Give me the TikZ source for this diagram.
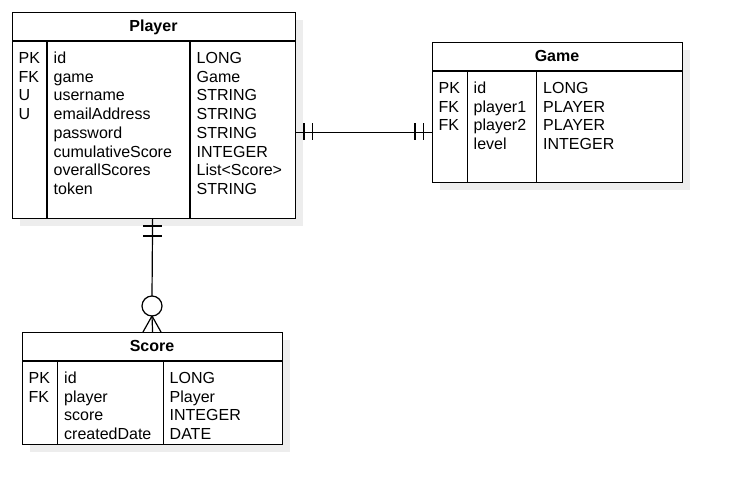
\documentclass[tikz,border=0pt]{standalone}
\usepackage{fontspec}
\setmainfont{Liberation Sans}
\begin{document}
\begin{tikzpicture}[x=1pt,y=-1pt,
  tbl/.style={draw, line width=1.2pt, fill=white, anchor=north west, inner sep=0pt},
  shadowbox/.style={fill=black!7, draw=none},
  cell/.style={anchor=base west, inner sep=0pt, font=\fontsize{16}{19}\selectfont},
  head/.style={anchor=base, inner sep=0pt, font=\fontsize{16}{19}\selectfont\bfseries},
  rel/.style={line width=1.2pt},
  sep/.style={line width=1.2pt}]
\useasboundingbox[fill=white] (0,0) rectangle (732,495);

% ---------- Player ----------
\fill[shadowbox] (20,20) rectangle (303,226);
\node[tbl, minimum width=283pt, minimum height=206pt] (player) at (12,12) {};
\draw[sep] (12,41) -- (295,41);
\draw[sep] (47,41) -- (47,218);
\draw[sep] (190,41) -- (190,218);
\node[head] (playerT) at (153.5,31.7) {Player};
\foreach \t [count=\i from 0] in {PK,FK,U,U}
  \node[cell] (pk\i) at (18.5,{63.3+18.75*\i}) {\t};
\foreach \t [count=\i from 0] in {id,game,username,emailAddress,password,cumulativeScore,overallScores,token}
  \node[cell] (pf\i) at (53.5,{63.3+18.75*\i}) {\t};
\foreach \t [count=\i from 0] in {LONG,Game,STRING,STRING,STRING,INTEGER,List<Score>,STRING}
  \node[cell] (pt\i) at (196.5,{63.3+18.75*\i}) {\t};

% ---------- Game ----------
\fill[shadowbox] (440,50) rectangle (690,190);
\node[tbl, minimum width=250pt, minimum height=140pt] (game) at (432,42) {};
\draw[sep] (432,71) -- (682,71);
\draw[sep] (467.5,71) -- (467.5,182);
\draw[sep] (536.5,71) -- (536.5,182);
\node[head] (gameT) at (557,61.7) {Game};
\foreach \t [count=\i from 0] in {PK,FK,FK}
  \node[cell] (gk\i) at (438.5,{93.3+18.75*\i}) {\t};
\foreach \t [count=\i from 0] in {id,player1,player2,level}
  \node[cell] (gf\i) at (473.5,{93.3+18.75*\i}) {\t};
\foreach \t [count=\i from 0] in {LONG,PLAYER,PLAYER,INTEGER}
  \node[cell] (gt\i) at (543,{93.3+18.75*\i}) {\t};

% ---------- Score ----------
\fill[shadowbox] (30,340) rectangle (290,452);
\node[tbl, minimum width=260pt, minimum height=112pt] (score) at (22,332) {};
\draw[sep] (22,361) -- (282,361);
\draw[sep] (57.5,361) -- (57.5,444);
\draw[sep] (163.5,361) -- (163.5,444);
\node[head] (scoreT) at (152,351) {Score};
\foreach \t [count=\i from 0] in {PK,FK}
  \node[cell] (sk\i) at (28.5,{383.3+18.75*\i}) {\t};
\foreach \t [count=\i from 0] in {id,player,score,createdDate}
  \node[cell] (sf\i) at (64,{383.3+18.75*\i}) {\t};
\foreach \t [count=\i from 0] in {LONG,Player,INTEGER,DATE}
  \node[cell] (st\i) at (169.5,{383.3+18.75*\i}) {\t};

% ---------- Player -- Game (one to one) ----------
\draw[rel] ([yshift=-17pt]player.east) -- ([yshift=-17pt]player.east -| game.west);
\draw[rel] (304,123.5) -- (304,140.5);
\draw[rel] (312.5,123.5) -- (312.5,140.5);
\draw[rel] (415,123.5) -- (415,140.5);
\draw[rel] (423.5,123.5) -- (423.5,140.5);

% ---------- Player -- Score (one to zero-or-many) ----------
\coordinate (cb) at (152,316);
\draw[rel] (score.north |- player.south) -- (152,296);
\draw[rel] (143,226) -- (161.5,226);
\draw[rel] (143,236) -- (161.5,236);
\draw[rel] (152,306) circle[radius=10pt];
\draw[rel] (cb) -- (143,332);
\draw[rel] (cb) -- (score.north);
\draw[rel] (cb) -- (161,332);
\end{tikzpicture}
\end{document}
